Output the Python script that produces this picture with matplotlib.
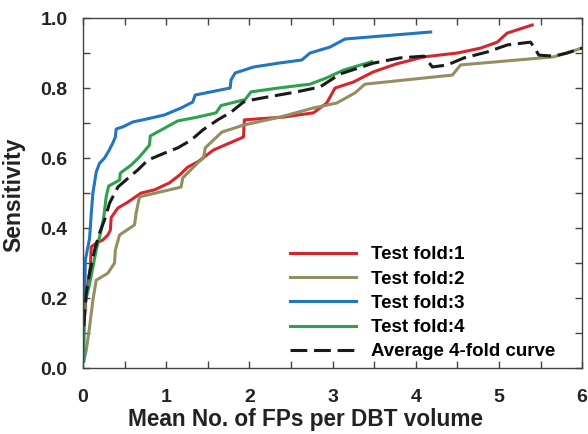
import matplotlib
matplotlib.use("Agg")
import matplotlib.pyplot as plt
from matplotlib.ticker import MultipleLocator

plt.rcParams["font.family"] = ["Liberation Sans", "DejaVu Sans"]
plt.rcParams["font.weight"] = "bold"

# FROC curves
fold1_x = [0.01, 0.04, 0.09, 0.10, 0.16, 0.24, 0.30, 0.33, 0.34, 0.42, 0.54, 0.70, 0.86,
           1.04, 1.16, 1.26, 1.38, 1.57, 1.93, 1.94, 2.41, 2.77, 2.93, 3.03, 3.25, 3.49,
           3.77, 4.10, 4.50, 4.78, 4.98, 5.10, 5.40]
fold1_y = [0.12, 0.21, 0.29, 0.346, 0.357, 0.366, 0.38, 0.394, 0.43, 0.457, 0.474, 0.50,
           0.509, 0.529, 0.551, 0.574, 0.589, 0.623, 0.66, 0.709, 0.717, 0.729, 0.757, 0.80,
           0.817, 0.846, 0.869, 0.889, 0.90, 0.914, 0.931, 0.957, 0.98]

fold2_x = [0.01, 0.04, 0.08, 0.12, 0.16, 0.30, 0.38, 0.39, 0.44, 0.62, 0.64, 0.68, 1.18,
           1.20, 1.38, 1.45, 1.47, 1.67, 1.93, 2.37, 2.77, 3.05, 3.27, 3.39, 4.44, 4.54,
           5.66, 6.0]
fold2_y = [0.02, 0.05, 0.117, 0.194, 0.251, 0.271, 0.30, 0.337, 0.38, 0.409, 0.443, 0.489,
           0.517, 0.543, 0.586, 0.60, 0.629, 0.674, 0.694, 0.717, 0.743, 0.757, 0.786,
           0.811, 0.837, 0.866, 0.889, 0.914]

fold3_x = [0.01, 0.02, 0.03, 0.08, 0.10, 0.12, 0.16, 0.20, 0.26, 0.31, 0.36, 0.39, 0.40,
           0.48, 0.60, 0.74, 0.98, 1.18, 1.32, 1.35, 1.54, 1.77, 1.78, 1.83, 2.05, 2.35,
           2.63, 2.73, 2.97, 3.15, 4.18]
fold3_y = [0.02, 0.20, 0.31, 0.37, 0.44, 0.50, 0.56, 0.585, 0.60, 0.62, 0.643, 0.66, 0.683,
           0.689, 0.703, 0.71, 0.723, 0.743, 0.76, 0.78, 0.789, 0.80, 0.823, 0.843, 0.86,
           0.871, 0.88, 0.90, 0.917, 0.94, 0.96]

fold4_x = [0.0, 0.01, 0.08, 0.16, 0.22, 0.25, 0.28, 0.31, 0.44, 0.45, 0.58, 0.68, 0.80,
           0.81, 0.94, 1.14, 1.38, 1.60, 1.66, 1.95, 2.02, 2.35, 2.73, 2.93, 3.13, 3.47]
fold4_y = [0.02, 0.17, 0.24, 0.337, 0.394, 0.43, 0.49, 0.52, 0.537, 0.557, 0.58, 0.603,
           0.637, 0.663, 0.68, 0.706, 0.717, 0.729, 0.75, 0.767, 0.789, 0.80, 0.811, 0.829,
           0.851, 0.875]

avg_x = [0.01, 0.04, 0.08, 0.14, 0.20, 0.26, 0.32, 0.42, 0.56, 0.66, 0.78, 0.98, 1.14,
         1.30, 1.44, 1.62, 1.78, 1.93, 2.03, 2.21, 2.57, 2.85, 3.09, 3.49, 3.81, 4.10,
         4.20, 4.38, 4.58, 4.86, 5.10, 5.38, 5.42, 5.48, 5.66, 5.82, 6.0]
avg_y = [0.12, 0.214, 0.271, 0.337, 0.386, 0.423, 0.471, 0.517, 0.546, 0.566, 0.594,
         0.614, 0.629, 0.651, 0.68, 0.709, 0.731, 0.76, 0.766, 0.774, 0.789, 0.803, 0.84,
         0.871, 0.886, 0.891, 0.86, 0.866, 0.886, 0.903, 0.923, 0.931, 0.917, 0.894,
         0.891, 0.90, 0.914]

fig = plt.figure(figsize=(5.88, 4.34), dpi=100)
ax = fig.add_axes([0.141, 0.152, 0.849, 0.8065])

lw = 2.2
ax.plot(fold1_x, fold1_y, color="#d7262b", lw=lw, label="Test fold:1")
ax.plot(fold2_x, fold2_y, color="#948f60", lw=lw, label="Test fold:2")
ax.plot(fold3_x, fold3_y, color="#2176c0", lw=lw, label="Test fold:3")
ax.plot(fold4_x, fold4_y, color="#2ea24b", lw=lw, label="Test fold:4")
ax.plot(avg_x, avg_y, color="#1a1a1a", lw=lw, dashes=(5.5, 2.2),
        label="Average 4-fold curve")

ax.set_xlim(0, 6)
ax.set_ylim(0, 1)
ax.xaxis.set_major_locator(MultipleLocator(1))
ax.xaxis.set_minor_locator(MultipleLocator(0.5))
ax.yaxis.set_major_locator(MultipleLocator(0.2))
ax.yaxis.set_minor_locator(MultipleLocator(0.1))
ax.yaxis.set_major_formatter(plt.FuncFormatter(lambda v, p: f"{v:.1f}"))

ax.tick_params(which="both", direction="in", top=True, right=True,
               length=5, width=1, color="#444444")
ax.tick_params(which="major", labelsize=14, labelcolor="#222222")
ax.tick_params(axis="x", which="major", pad=15)
ax.tick_params(axis="y", which="major", pad=11)
for s in ax.spines.values():
    s.set_color("#444444")
    s.set_linewidth(1)

ax.set_xlabel("Mean No. of FPs per DBT volume", fontsize=16.3, fontweight="bold",
              color="#222222")
ax.set_ylabel("Sensitivity", fontsize=16.5, fontweight="bold", color="#222222")
ax.xaxis.set_label_coords(0.445, -0.115)
ax.yaxis.set_label_coords(-0.116, 0.494)

ax.legend(loc="lower left", bbox_to_anchor=(0.415, 0.022), frameon=False,
          borderpad=0, borderaxespad=0, handlelength=3.5, handletextpad=0.8,
          labelspacing=0.38, prop={"size": 13.5, "weight": "bold"})

fig.savefig("out.png", dpi=100)
